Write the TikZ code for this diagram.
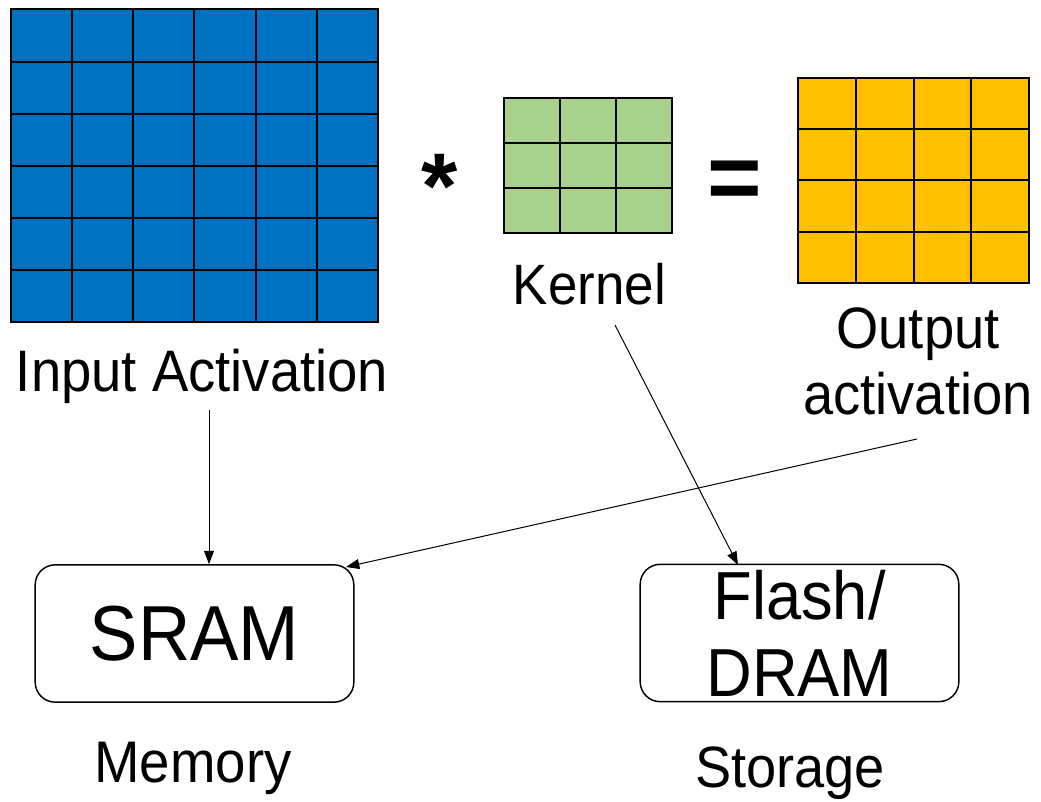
\documentclass[tikz,border=0pt]{standalone}
\usepackage{fontspec}
\setmainfont{Liberation Sans}[FakeStretch=0.93]
\newfontfamily\opfont{Liberation Sans}
\usetikzlibrary{arrows.meta}
\definecolor{inblue}{HTML}{0070C0}
\definecolor{kgreen}{HTML}{A9D18E}
\definecolor{outgold}{HTML}{FFC000}
% filled matrix of cells: fill, x0, y0, x1, y1, columns, rows
\newcommand\cellgrid[7]{%
  \fill[#1] (#2,#3) rectangle (#4,#5);
  \foreach \k in {0,...,#6}
    \draw[gridline] ({#2+(#4-#2)*\k/#6},#3) -- ({#2+(#4-#2)*\k/#6},#5);
  \foreach \k in {0,...,#7}
    \draw[gridline] (#2,{#3+(#5-#3)*\k/#7}) -- (#4,{#3+(#5-#3)*\k/#7});
}
\begin{document}
\begin{tikzpicture}[x=0.75pt,y=-0.75pt,
  gridline/.style={line width=1.5pt,line cap=rect,black},
  lbl/.style={inner sep=0pt,anchor=base},
  opsym/.style={inner sep=0pt,anchor=north,font=\fontsize{70}{72}\opfont\bfseries},
  membox/.style={draw,line width=1.1pt,rounded corners=15pt,minimum width=239pt,
    minimum height=103pt,inner sep=0pt},
  arr/.style={line width=0.75pt,-{Triangle[length=10pt,width=7.5pt]}}]
\useasboundingbox (0,0) rectangle (1041,802);

% input activation, kernel and output activation matrices
\cellgrid{inblue}{10.5}{9.5}{378}{322}{6}{6}
\cellgrid{kgreen}{504}{98}{672}{233}{3}{3}
\cellgrid{outgold}{798}{78}{1029}{283}{4}{4}

\node[opsym] (times) at (439.5,154) {*};
\node[opsym] (equals) at (735,161) {=};

\node[lbl,font=\fontsize{43.9}{50}\selectfont] (inlbl) at (202,391) {Input Activation};
\node[lbl,font=\fontsize{42.7}{50}\selectfont] (klbl) at (589.5,304) {Kernel};
\node[inner sep=0pt,align=center,font=\fontsize{43.8}{49.5}\selectfont] (outlbl)
  at (918,361) {Output\\activation};

% memory hierarchy
\node[membox,font=\fontsize{58.5}{60}\selectfont] (sram) at (194.5,633.5) {SRAM};
\node[membox,align=center,font=\fontsize{51}{57.75}\selectfont] (flash)
  at (799.5,633) {Flash/\\DRAM};
\node[lbl,font=\fontsize{44}{50}\selectfont] (memlbl) at (193,782) {Memory};
\node[lbl,font=\fontsize{43.7}{50}\selectfont] (stlbl) at (790,787) {Storage};

% data placement
\coordinate (inA) at (209,410);
\coordinate (kA) at (615,325);
\coordinate (oA) at (917,439);
\coordinate (flTop) at (738,565);
\coordinate (sramCorner) at (346,567);
\draw[arr] (inA) -- (sram.north -| inA);
\draw[arr] (kA) -- (flTop);
\draw[arr] (oA) -- (sramCorner);
\end{tikzpicture}
\end{document}
